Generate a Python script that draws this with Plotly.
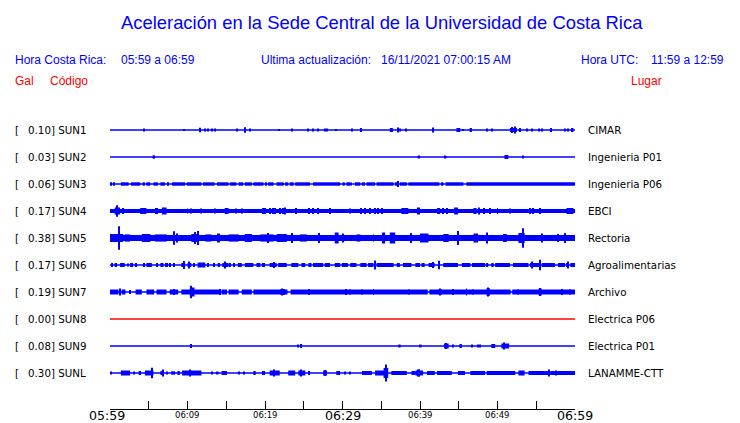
import plotly.graph_objects as go

# ---------------- data ----------------
CODES = ["SUN1", "SUN2", "SUN3", "SUN4", "SUN5", "SUN6", "SUN7", "SUN8", "SUN9", "SUNL"]
PEAKS = ["0.10", "0.03", "0.06", "0.17", "0.38", "0.17", "0.19", "0.00", "0.08", "0.30"]
PLACES = ["CIMAR", "Ingenieria P01", "Ingenieria P06", "EBCI", "Rectoria",
          "Agroalimentarias", "Archivo", "Electrica P06", "Electrica P01", "LANAMME-CTT"]

TICK_MINUTES = list(range(0, 61, 5))
MAJOR_LABEL_MIN = [0, 30, 60]
MAJOR_LABELS = ["05:59", "06:29", "06:59"]
MINOR_LABEL_MIN = [10, 20, 40, 50]
MINOR_LABELS = ["06:09", "06:19", "06:39", "06:49"]

TITLE = "Aceleración en la Sede Central de la Universidad de Costa Rica"
LOCAL_HOURS = "05:59 a 06:59"
UTC_HOURS = "11:59 a 12:59"
UPDATED = "16/11/2021 07:00:15 AM"

# bursts of signal per station: (start minute, end minute, half amplitude)
SUN1 = [(4.4, 4.4, 1.5), (9.5, 9.5, 1), (11.6, 11.7, 2.2), (12.2, 12.2, 1.5), (12.7, 12.7, 1.5),
        (13.2, 13.2, 1.5), (13.6, 13.6, 1.5), (16.4, 16.4, 1.5), (17.4, 17.4, 2.8), (18.1, 18.1, 1.5),
        (21.8, 21.8, 1), (23.5, 23.5, 1.5), (25.5, 25.5, 1.5), (26.2, 26.2, 1.5), (26.9, 26.9, 1.5),
        (27.8, 27.8, 1.5), (28.0, 28.0, 1.5), (29.1, 29.1, 1), (31.2, 31.2, 1.5), (32.4, 32.4, 2),
        (36.1, 36.5, 2), (37.1, 37.1, 2.5), (37.4, 37.4, 1.5), (38.2, 38.2, 1.5), (41.7, 41.7, 2.5),
        (44.7, 45.2, 2), (45.6, 45.6, 1), (46.4, 46.7, 2), (48.6, 48.6, 1.5), (49.3, 49.3, 1.5),
        (51.6, 52.5, 2), (51.9, 51.9, 3), (52.3, 52.3, 3.5), (52.9, 52.9, 2), (53.8, 53.8, 1.5),
        (54.4, 54.4, 1.5), (55.4, 55.4, 1.5), (55.7, 55.7, 1.5), (56.9, 56.9, 2), (58.7, 58.7, 1.5),
        (59.1, 59.1, 1.5), (59.6, 59.8, 2)]
SUN2 = [(5.5, 5.8, 1.7), (39.7, 40.0, 1.5), (43.2, 43.4, 1.5), (50.9, 51.4, 2), (53.3, 53.3, 1.5)]
SUN3 = [(0.0, 0.2, 1.7), (0.4, 0.6, 1.7), (1.4, 2.4, 1.7), (2.7, 3.9, 1.7), (4.2, 4.5, 1.7), (4.7, 5.2, 1.7),
        (5.6, 6.2, 1.7), (6.5, 7.1, 1.7), (7.4, 7.6, 1.7), (8.0, 9.7, 1.7), (9.9, 11.8, 1.7), (12.0, 13.5, 1.7),
        (13.8, 15.3, 1.7), (15.5, 16.3, 1.7), (16.6, 17.2, 1.7), (17.4, 18.3, 1.7), (18.5, 19.8, 1.7),
        (20.0, 20.2, 1.7), (20.4, 21.1, 1.7), (21.5, 22.4, 1.7), (22.6, 23.0, 1.7), (23.2, 23.7, 1.7),
        (23.9, 25.8, 1.7), (26.2, 29.7, 1.7), (30.0, 30.3, 1.7), (30.5, 31.2, 1.7), (31.6, 32.3, 1.7),
        (32.5, 32.9, 1.7), (33.1, 34.2, 1.7), (34.4, 36.6, 1.7), (36.8, 37.0, 1.7), (37.2, 37.2, 3),
        (37.4, 38.3, 1.7), (38.5, 42.5, 1.7), (42.7, 43.0, 1.7), (43.3, 45.6, 1.7), (46.0, 60.0, 1.7)]
SUN4 = [(0.0, 60.0, 2), (0.6, 1.3, 3.5), (0.9, 0.9, 5.7), (1.7, 1.7, 3), (3.9, 4.7, 3), (5.8, 6.2, 3),
        (6.7, 7.3, 3.5), (10.0, 10.0, 2.5), (10.5, 10.5, 2.5), (11.7, 11.7, 2.5), (13.5, 13.5, 2.5),
        (14.8, 15.3, 3), (16.3, 16.3, 2.5), (17.0, 17.0, 2.5), (19.8, 19.8, 3), (20.0, 20.0, 3),
        (20.6, 20.6, 3), (21.0, 21.0, 3), (21.3, 21.3, 3), (21.9, 21.9, 3), (22.3, 22.3, 3),
        (22.6, 22.6, 3.5), (23.9, 24.1, 3), (25.6, 25.8, 3), (26.2, 26.2, 3), (26.9, 26.9, 3),
        (28.4, 28.4, 3), (31.0, 31.0, 2.5), (32.3, 32.5, 3), (32.9, 32.9, 3), (33.5, 33.5, 3),
        (34.2, 34.2, 3), (34.6, 34.6, 3), (35.1, 35.1, 3), (37.6, 38.5, 3), (39.6, 40.0, 3.5),
        (42.2, 42.6, 3), (43.0, 43.0, 3), (43.5, 43.5, 3), (44.4, 44.9, 3.5), (46.9, 47.3, 3),
        (47.6, 47.6, 3.5), (48.2, 48.2, 3), (49.0, 49.0, 3), (50.0, 50.0, 3), (51.6, 51.6, 2.5),
        (54.2, 54.2, 3), (54.6, 54.6, 3), (55.5, 55.5, 3), (58.9, 59.8, 3)]
SUN5 = [(0.0, 60.0, 3), (0.0, 1.7, 4), (1.2, 1.2, 11.7), (1.9, 2.6, 3.6), (4.1, 5.2, 4), (5.8, 7.3, 3.6),
        (8.3, 8.3, 6.8), (8.6, 8.6, 4.5), (10.5, 11.4, 4), (11.0, 11.0, 6), (11.3, 11.3, 7), (12.3, 13.1, 3.6),
        (13.8, 14.2, 4.5), (15.3, 16.6, 3.6), (17.4, 18.3, 4), (19.4, 21.1, 3.6), (20.4, 20.4, 5),
        (21.5, 22.8, 4), (23.4, 23.6, 5), (24.5, 25.4, 3.6), (26.9, 27.1, 5), (29.0, 29.5, 5.5),
        (30.1, 30.1, 4.5), (31.8, 32.3, 3.6), (34.0, 34.0, 3.6), (35.1, 35.5, 5.5), (36.1, 36.8, 5.5),
        (38.9, 38.9, 5), (40.0, 41.1, 4.5), (43.0, 43.7, 4), (44.9, 44.9, 7), (46.9, 47.5, 4.5),
        (48.6, 48.6, 5.5), (50.7, 51.2, 4), (52.7, 53.5, 5), (53.3, 53.3, 9.8), (55.7, 55.7, 4.5),
        (57.8, 57.8, 4), (58.7, 58.7, 5)]
SUN6 = [(0.2, 0.4, 2), (0.6, 0.9, 2), (1.3, 1.9, 2), (2.3, 2.3, 1.5), (2.6, 3.0, 2), (3.4, 3.4, 2),
        (4.3, 4.5, 2), (4.7, 5.4, 2), (6.0, 6.2, 2), (6.5, 6.9, 2), (7.1, 7.5, 2), (7.7, 7.7, 2),
        (8.2, 8.2, 2), (9.2, 9.7, 2), (9.5, 9.5, 4), (10.0, 10.5, 2), (10.2, 10.2, 3.5), (10.8, 10.8, 2),
        (11.3, 12.3, 2.5), (12.7, 12.7, 2), (13.3, 13.5, 2), (13.9, 14.2, 2), (14.5, 15.3, 2),
        (14.9, 14.9, 3.5), (15.5, 15.5, 2), (15.9, 16.1, 2), (16.5, 17.0, 2), (17.4, 18.5, 2),
        (18.9, 19.4, 2), (19.6, 20.0, 2), (20.6, 21.5, 2), (21.1, 21.1, 3), (21.7, 22.8, 2),
        (23.4, 24.3, 2), (24.7, 25.2, 2), (25.6, 26.0, 2), (26.2, 27.5, 2), (27.7, 28.4, 2),
        (29.0, 29.7, 2), (29.9, 30.7, 2), (31.0, 31.8, 2), (32.3, 33.1, 2), (33.3, 34.0, 2),
        (34.2, 34.2, 4.5), (34.4, 36.6, 2), (37.0, 37.4, 2), (37.8, 38.9, 2), (39.4, 40.0, 2),
        (40.2, 40.6, 2), (41.1, 41.9, 2), (41.7, 41.7, 3), (42.4, 42.4, 4.2), (43.0, 44.9, 2),
        (45.4, 46.5, 2), (46.7, 48.4, 2), (48.6, 48.8, 2), (49.2, 49.5, 2), (49.7, 51.6, 2),
        (52.0, 54.0, 2), (54.4, 54.4, 3.5), (54.2, 55.5, 2), (55.5, 55.5, 5.3), (55.7, 57.4, 2),
        (57.8, 58.7, 2), (58.9, 59.1, 2), (59.1, 59.1, 3.5), (59.4, 60.0, 2)]
SUN7 = [(0.0, 1.1, 2.5), (1.3, 1.3, 3.5), (1.5, 2.0, 2.5), (2.6, 2.6, 2), (3.3, 4.1, 2.5), (4.7, 5.7, 2.5),
        (6.0, 7.3, 2.5), (7.7, 8.8, 2.5), (8.2, 8.2, 3), (9.2, 14.2, 2.5), (10.3, 10.9, 4.5),
        (10.5, 10.5, 6.3), (14.2, 14.2, 3), (14.4, 15.1, 2.5), (15.3, 16.6, 2.5), (17.0, 18.3, 2.5),
        (18.5, 22.9, 2.5), (22.0, 22.6, 3), (22.2, 22.2, 3.5), (23.3, 41.0, 2.5), (25.7, 25.7, 3),
        (30.5, 30.5, 3), (31.0, 31.0, 2.5), (32.5, 32.5, 2.5), (34.0, 34.0, 3), (38.6, 38.6, 2.5),
        (41.2, 51.7, 2.5), (51.9, 60.0, 2.5), (42.4, 42.8, 3), (42.6, 42.6, 3.5), (44.3, 44.3, 3),
        (46.0, 46.0, 3.5), (46.9, 46.9, 2.5), (48.6, 49.0, 4), (48.8, 48.8, 4.5), (52.7, 52.7, 2.5),
        (55.3, 55.7, 3.5), (55.5, 55.5, 4), (58.3, 58.3, 3), (59.4, 59.4, 2.5)]
SUN8 = []
SUN9 = [(10.4, 10.4, 2), (24.3, 24.3, 1.5), (24.6, 24.6, 2), (37.2, 37.5, 1.5), (39.9, 40.2, 1.5),
        (43.1, 43.7, 2.5), (43.4, 43.4, 3), (44.3, 44.3, 1.5), (45.1, 45.4, 2), (46.7, 46.7, 1.5),
        (47.5, 47.5, 1.5), (47.8, 47.8, 1.5), (49.2, 49.7, 2), (50.5, 51.5, 2.5), (50.9, 50.9, 3.5)]
SUNL = [(0.1, 0.1, 1.5), (1.4, 2.6, 2.5), (3.1, 3.1, 1.5), (3.7, 4.0, 2), (4.5, 5.6, 2.5), (5.4, 5.4, 5.3),
        (6.5, 6.9, 2), (6.8, 6.8, 3.5), (7.3, 7.3, 1.5), (7.9, 8.4, 1.7), (8.7, 9.0, 2), (9.3, 11.8, 2.5),
        (10.3, 10.3, 3.5), (13.1, 13.1, 1.5), (13.8, 14.0, 1.5), (14.4, 15.1, 2), (16.7, 16.7, 1.5),
        (17.3, 17.3, 1.5), (18.5, 18.8, 2), (19.6, 20.0, 2), (20.6, 21.9, 2.5), (21.1, 21.1, 3.5),
        (23.0, 23.9, 2.5), (24.3, 25.2, 2.5), (24.6, 24.6, 3.5), (25.6, 25.8, 2), (27.5, 28.0, 2.5),
        (27.7, 27.7, 3), (29.2, 29.7, 2), (30.3, 30.3, 1.5), (31.0, 31.0, 1.5), (32.5, 33.8, 2),
        (34.2, 35.7, 2.5), (35.3, 35.9, 5), (35.6, 35.6, 8.5), (36.3, 38.3, 2), (38.9, 39.4, 2),
        (39.4, 40.4, 2.5), (39.6, 40.0, 3.5), (39.9, 39.9, 3.5), (40.9, 41.9, 2), (42.2, 44.1, 2),
        (44.9, 45.8, 2), (46.5, 48.4, 2), (48.6, 52.3, 2), (52.7, 53.5, 2.5), (54.0, 56.6, 2),
        (56.7, 56.7, 3.5), (56.8, 60.0, 2), (57.6, 57.6, 2.5)]

BURSTS = [SUN1, SUN2, SUN3, SUN4, SUN5, SUN6, SUN7, SUN8, SUN9, SUNL]

# ---------------- layout constants ----------------
W, H = 740, 423
PL, PR, PT, PB = 110, 575, 115, 409      # plot area in pixels
ROW0, ROWSTEP = 130, 27                  # first trace centre / spacing in pixels
AMP_UNIT = 1.0 / ROWSTEP                 # amplitude unit -> row units
SPIKE_W = 0.13                           # minutes (~1 px)

BLUE = "#0000ff"
RED = "#ff0000"
y_top = (PT - ROW0) / ROWSTEP
y_bot = (PB - ROW0) / ROWSTEP


def px_x(px):
    return (px - PL) / (PR - PL)


def px_y(py):
    return (PB - py) / (PB - PT)


fig = go.Figure()

for i, (code, peak, bursts) in enumerate(zip(CODES, PEAKS, BURSTS)):
    color = RED if float(peak) == 0 else BLUE
    fig.add_trace(go.Scatter(x=[0, 60], y=[i, i], mode="lines",
                             line=dict(color=color, width=1.4),
                             hoverinfo="skip", showlegend=False))
    if bursts:
        xs, ws, bases, hs = [], [], [], []
        for t0, t1, a in bursts:
            w = max(t1 - t0, SPIKE_W)
            xs.append((t0 + t1) / 2)
            ws.append(w)
            amp = a * AMP_UNIT
            bases.append(i - amp)
            hs.append(2 * amp)
        fig.add_trace(go.Bar(x=xs, y=hs, base=bases, width=ws,
                             marker=dict(color=color, line=dict(width=0)),
                             hoverinfo="skip", showlegend=False))

ann = []
NOPAD = dict(borderpad=0, borderwidth=0, showarrow=False)
lab_font = dict(family="DejaVu Sans", size=10.3, color="black")
for i, (code, peak, place) in enumerate(zip(CODES, PEAKS, PLACES)):
    py = ROW0 + ROWSTEP * i
    ann.append(dict(x=px_x(15), y=px_y(py), xref="paper", yref="paper", text="[",
                    xanchor="left", yanchor="middle", font=lab_font, **NOPAD))
    ann.append(dict(x=px_x(27.5), y=px_y(py), xref="paper", yref="paper",
                    text=f"{peak}] {code}",
                    xanchor="left", yanchor="middle", font=lab_font, **NOPAD))
    ann.append(dict(x=px_x(588), y=px_y(py), xref="paper", yref="paper", text=place,
                    xanchor="left", yanchor="middle", font=lab_font, **NOPAD))

# header
hdr = dict(family="Liberation Sans, Arial", size=12, color=BLUE)
red = dict(family="Liberation Sans, Arial", size=12, color=RED)
ann.append(dict(x=px_x(381.5), y=px_y(22.5), xref="paper", yref="paper", text=TITLE,
                xanchor="center", yanchor="middle",
                font=dict(family="Liberation Sans, Arial", size=18.4, color=BLUE), **NOPAD))
for px, txt in [(15, "Hora Costa Rica:"), (120.5, LOCAL_HOURS), (261, "Ultima actualización:"),
                (380.5, UPDATED), (580.5, "Hora UTC:"), (650.5, UTC_HOURS)]:
    ann.append(dict(x=px_x(px), y=px_y(60.5), xref="paper", yref="paper", text=txt,
                    xanchor="left", yanchor="middle", font=hdr, **NOPAD))
for px, txt in [(15, "Gal"), (50, "Código"), (630.5, "Lugar")]:
    ann.append(dict(x=px_x(px), y=px_y(80.5), xref="paper", yref="paper", text=txt,
                    xanchor="left", yanchor="middle", font=red, **NOPAD))

# time labels
for m, txt in zip(MAJOR_LABEL_MIN, MAJOR_LABELS):
    ann.append(dict(x=m, y=px_y(415.3), xref="x", yref="paper", text=txt,
                    xanchor="center", yanchor="middle",
                    xshift=-3 if m == 0 else 0,
                    font=dict(family="DejaVu Sans", size=12.6, color="black"), **NOPAD))
for m, txt in zip(MINOR_LABEL_MIN, MINOR_LABELS):
    ann.append(dict(x=m, y=px_y(414.5), xref="x", yref="paper", text=txt,
                    xanchor="center", yanchor="middle",
                    font=dict(family="DejaVu Sans", size=8.5, color="black"), **NOPAD))

fig.update_layout(
    width=W, height=H,
    margin=dict(l=PL, r=W - PR, t=PT, b=H - PB, pad=0),
    paper_bgcolor="white", plot_bgcolor="white",
    barmode="overlay", showlegend=False,
    annotations=ann,
    xaxis=dict(range=[0, 60], showgrid=False, zeroline=False, showline=True,
               linecolor="black", linewidth=1, ticks="inside", ticklen=8,
               tickwidth=1, tickcolor="black", tickvals=TICK_MINUTES,
               showticklabels=False, fixedrange=True),
    yaxis=dict(range=[y_bot, y_top], visible=False, showgrid=False,
               zeroline=False, fixedrange=True),
)

fig.write_html(
    "out.html",
    config={"displayModeBar": False},
    post_script="document.body.style.margin='0';document.body.style.overflow='hidden';",
)
